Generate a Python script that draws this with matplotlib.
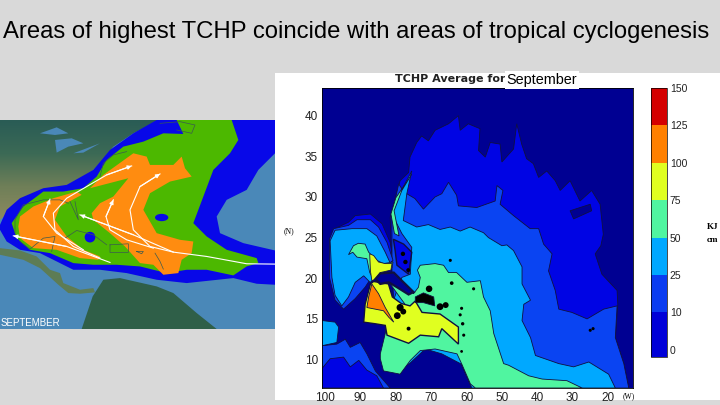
import numpy as np
import matplotlib
matplotlib.use("Agg")
import matplotlib.pyplot as plt
from matplotlib.colors import ListedColormap, BoundaryNorm, LinearSegmentedColormap
from matplotlib.cm import ScalarMappable
from matplotlib.patches import Polygon, Ellipse

W, H = 720, 405
GRAY = "#d9d9d9"

TITLE = "Areas of highest TCHP coincide with areas of tropical cyclogenesis"

# colour per TCHP class
LEVELS = [0, 10, 25, 50, 75, 100, 125, 150]
CLASS_COLORS = ["#0000d8", "#0a3cf0", "#00a8ff", "#50f5a0", "#e0ff20", "#ff8000", "#d40000"]
NAVY = "#000092"
L1, L2, L3, L4, L5, L6 = "#0004e4", "#0a44f2", "#00a8ff", "#50f5a0", "#e0ff20", "#ff8000"

# right map, contours, (lon W, lat N)
atl_10 = [(76.4,33),(76,34.9),(74.1,36.7),(72.7,37.5),(70.8,36.9),(68.9,38.2),(65.1,39),(62.3,40),(61.8,38.2),
          (59.5,39),(56.2,38.4),(56.6,35.7),(54.7,34.9),(53.3,36.7),(50.5,36.5),(50,34.3),(46.7,35.9),(45.8,39),
          (44.4,36.5),(43,34.7),(41.1,34.1),(39.6,32.4),(37.3,33.2),(34.9,32),(33.5,30.8),(30.7,32),(27.9,29.5),
          (24.6,30.8),(22.2,29.1),(21.3,25.4),(22,24),(23.6,23),(21.7,20.5),(17.4,18.5),(17.2,16.8),(17.9,12.7),
          (15.5,9.5),(14.1,6.5),(58.5,6.5),(62.3,10.3),(68.9,11.5),(74.5,11.5),(80.2,14.4),(81.1,20.9),(81.6,27.5),(78.8,32)]
atl_25 = [(77.7,30.6),(74.6,29.8),(72.2,28.5),(68.9,30),(67,30.4),(65.1,31.8),(62.8,30.2),(62.3,28.9),(57.1,28.7),
          (51.9,29.5),(51.4,31.4),(49.7,30.8),(50.5,29.1),(46.7,27.7),(42,26.1),(39.6,26.1),(38.2,24.2),(35.8,23),
          (36.8,20.9),(34.9,18.5),(33.9,16.2),(30.2,15.8),(25.9,15),(21.2,16.2),(17.4,16.6),(17.9,12.7),(15.5,9.5),
          (14.1,6.5),(58.5,6.5),(62.3,10.3),(68.9,11.5),(74.5,11.5),(80.2,14.4),(81.1,20.9),(81.1,27.9),(79.2,31.6)]
atl_50 = [(77.9,27.1),(74.1,26.3),(70.8,26.6),(67.5,26),(64.6,26.3),(61.8,25.8),(59,26.3),(55.2,25.6),(53.8,25),
          (50,24),(48.6,24.1),(46.7,23.4),(44.3,21.4),(44.3,19.3),(41.9,17.3),(43.8,16.8),(44.3,14.8),(41.9,12.7),
          (40.5,10.5),(33.9,9.5),(29.7,9.1),(25.4,9.7),(19.8,8.2),(17.9,6.5),(58.5,6.5),(61.3,9.4),(67,10.7),
          (71.7,11.3),(76.4,9.4),(79.2,11.1),(81.1,16.8),(78.3,20.1),(75.9,20.5),(75.5,23.8),(78.3,25.5),(81.1,27.9),
          (80,29.5),(75.5,33.2),(76.9,30.4)]
atl_75 = [(73.9,21),(73.1,21.6),(68.9,21.8),(66.5,21.6),(65.1,20.7),(62.8,20.7),(59.9,19.5),(56.1,19.7),(55.2,17.7),
          (53.3,16),(52.3,13.2),(49.5,9.5),(48.1,9.3),(42.4,8),(38.6,7.6),(31.6,7.4),(27.3,6.5),(57.5,6.5),(58.9,7),
          (61.3,9.4),(62.7,10.7),(68.9,11.3),(73.1,11.1),(75.9,9.9),(78.8,8.2),(81.1,8.4),(83.5,8.6),(84.4,10.1),
          (84.4,10.7),(83,13.2),(82.5,14.4),(80.2,15.2),(77.4,16.8),(81.6,19.3),(82.1,20.5),(75,18.1),(73.6,18.9),(73.1,20.1)]
yuc_75 = [(93.4,22.9),(92,24),(90.6,24.3),(88.7,24.2),(87.7,23.2),(85.4,22.2),(83.5,21.8),(80.8,22),(81.1,21.3),
          (86.3,19.9),(87.4,20.7),(88.2,22.4),(91,22.6),(92.2,23.2)]
yuc_100 = [(87.4,23),(86.3,22.8),(84.9,22),(83,21.8),(81.1,21.8),(81.4,21),(84.4,20.7),(85.8,19.9),(86.8,19.7),(87.2,20.9)]
car_100 = [(89.1,14.6),(88.7,16.8),(87.2,19.3),(86.3,19.6),(82.1,19.3),(81,17.7),(78.5,16.9),(76,16.6),(74.5,17.2),
           (72.6,15.8),(67.5,15.6),(62.3,14),(62.3,11.9),(67,13.8),(67.9,12.8),(73.1,13),(76.4,12),(82.5,13),(83,14.2),(85.8,14.4)]
car_125 = [(86.8,19.3),(84.9,18.1),(83,16.4),(80.6,14.6),(82,15.2),(83.5,16),(88.2,16.4),(87.7,17.7)]
gulf_10 = [(97.2,26.1),(93.4,26.9),(91.5,27.7),(87.2,27.9),(83.9,26.7),(81.6,24.4),(80.8,22.2),(87.2,20.1),(94.8,16.4)]
gulf_25 = [(98.8,24.8),(97.6,26.1),(93.4,26.5),(91,27.2),(87.2,27.2),(84.9,26.3),(82.5,24.4),(80.8,22.2),(87.2,19.9),
           (88.7,18.9),(91.5,17.5),(94.8,16.2),(97.2,17.3),(98.8,20.1)]
gulf_50 = [(98.6,24.6),(97.2,25.9),(92.4,26.1),(88.2,26.1),(85.4,25.2),(83,23.2),(81.1,21.4),(87.3,19.5),(89.1,20.3),
           (91.5,19.5),(93.4,17.7),(95.3,16.6),(97.2,17.9),(98.1,20.1)]
stream_75 = [(75.5,32.8),(78.3,30.8),(80.5,28.3),(79.1,25.2),(80.4,25.5),(81.4,27.9),(80,29.9)]
pac_50 = [(100.9,14.8),(97.2,14.6),(96.2,14),(96.7,12.1),(100.9,11.7)]
pac_25 = [(100.9,11.7),(96.7,11.9),(94.3,12.5),(92.9,11.5),(90.1,12.1),(88.2,10.7),(85.8,8.6),(81.6,6.5),(100.9,6.5)]
pac_10 = [(100.9,8.9),(98.6,10.1),(94.8,10.3),(92.9,9.1),(90.5,9.9),(88.2,8.7),(85.4,8),(83.5,6.5),(100.9,6.5)]
navy_gap = [(30.7,28.3),(25,29.1),(24.6,28.3),(29.7,27.3)]
bahamas = [(80.7,24.8),(77.8,24.2),(75.5,23.2),(76.4,20.5),(79.7,21.6),(80.2,23.4)]
cuba = [(85.8,19.9),(84.4,20.6),(80.6,20.7),(78.3,19.7),(75,18.3),(76.4,18),(79.7,18.9),(82,19.5),(84.4,19.3)]
hispaniola = [(74.5,17.7),(72.2,18.2),(69.3,17.7),(69,16.6),(72.2,17),(74.5,17)]
island_lon = [70.6,78.8,79.6,77.9,67.5,65.9,76.4,64.2,58,64.6,61.4,61.8,61.1,60.8,61.4,25,24.2,78,77.3,76.5]
island_lat = [18.7,16.4,15.4,15.9,16.5,16.7,13.8,19.4,18.7,22.2,16.3,15.5,14.4,13,11,13.6,13.8,23,22,21]
island_size = [22,26,24,18,24,18,8,7,5,5,5,5,6,5,4,5,5,10,10,8]

LON_TICKS = [100, 90, 80, 70, 60, 50, 40, 30, 20]
LAT_TICKS = [10, 15, 20, 25, 30, 35, 40]

# left map, outlines in picture coordinates of the source image
usa_land = [(0,30),(480,30),(400,70),(340,110),(300,160),(270,190),(200,230),(130,240),(60,280),(0,330)]
mexico_land = [(0,415),(60,422),(110,440),(150,480),(180,490),(190,520),(240,540),(280,535),(285,548),(240,552),
               (205,550),(175,525),(120,475),(70,450),(0,435)]
samerica_land = [(278,560),(310,510),(360,505),(470,530),(520,550),(590,610),(650,658),(245,658)]
lakes = [[(120,70),(170,52),(205,70),(165,75)],[(165,90),(215,85),(250,100),(205,110),(170,128)],
         [(220,130),(300,100),(250,128)]]
band_blue = [(0,345),(20,300),(60,265),(130,235),(200,225),(280,180),(330,120),(400,70),(470,30),(825,30),(825,130),
             (775,180),(740,240),(680,270),(650,320),(660,370),(730,400),(825,422),(825,525),(770,522),(700,505),
             (560,520),(470,510),(380,490),(300,480),(220,480),(120,430),(60,420),(20,395),(0,360)]
band_green = [(530,30),(695,30),(715,90),(690,130),(640,180),(610,260),(580,340),(620,380),(680,420),(770,445),
              (775,460),(740,470),(700,497),(620,480),(560,480),(500,490),(420,470),(350,465),(280,465),(220,460),
              (150,430),(90,420),(50,385),(35,340),(70,290),(130,245),(190,245),(250,235),(290,200),(320,150),
              (370,110),(430,95),(490,70),(550,72)]
band_orange_e = [(400,130),(440,140),(450,165),(520,165),(545,140),(555,175),(575,200),(510,215),(450,250),(430,300),
                 (470,370),(540,390),(580,395),(575,430),(545,450),(535,490),(490,495),(460,465),(420,460),(375,410),
                 (330,370),(280,330),(275,310),(300,280),(340,260),(385,205),(270,235),(310,195)]
band_orange_w = [(60,320),(100,290),(160,265),(230,245),(245,255),(180,290),(165,330),(200,380),(250,420),(300,440),
                 (295,450),(240,445),(170,420),(100,415),(60,385),(55,350)]
spots = [(485,323,40,22),(270,382,32,32)]
tracks = [[(825,463),(740,462),(620,440),(520,427),(400,375),(240,315)],
          [(520,427),(450,410),(400,360),(390,300),(420,230),(480,192)],
          [(460,415),(380,390),(330,360),(318,320),(340,270)],
          [(330,458),(200,410),(40,378)],
          [(300,445),(220,410),(165,360),(160,310),(200,265),(260,230),(320,195),(395,168)],
          [(250,420),(170,370),(130,320),(150,268)]]
coasts = [[(300,200),(310,160),(340,135),(380,125)],[(210,275),(235,330),(225,275)],
          [(195,385),(230,362),(280,375),(320,405)],[(330,405),(385,402),(385,428),(330,428),(330,405)],
          [(410,425),(430,425),(425,432),(410,425)],[(45,370),(45,330),(70,285),(130,270),(180,270),(205,280)],
          [(60,395),(90,418),(130,385),(165,380),(155,425)],[(465,430),(480,455),(490,478)],
          [(480,40),(540,35),(585,45),(575,70),(530,60)]]


def axes_px(x0, y0, x1, y1, **kw):
    return fig.add_axes([x0 / W, 1 - y1 / H, (x1 - x0) / W, (y1 - y0) / H], **kw)


def fill(ax, pts, color, lw=0.6, z=2):
    ax.add_patch(Polygon(pts, closed=True, fc=color, ec="#101040", lw=lw, zorder=z))


fig = plt.figure(figsize=(W / 100, H / 100), dpi=100, facecolor=GRAY)
plt.rcParams["font.family"] = ["Liberation Sans", "DejaVu Sans"]

fig.text(356 / W, 1 - 32 / H, TITLE, ha="center", va="center", fontsize=17.2, color="black", family="Liberation Sans")

# left map
ax = axes_px(0, 120, 275, 329)
ax.axis("off")
ax.add_patch(plt.Rectangle((0, 30), 825, 628, fc="#4a88b8", ec="none", zorder=0))
land_cmap = LinearSegmentedColormap.from_list("land", ["#2a5c55", "#3c6a55", "#6f7f58", "#8c8a60"])
grad = ax.imshow(np.linspace(0, 1, 64).reshape(-1, 1), cmap=land_cmap, extent=(0, 825, 330, 30), aspect="auto", zorder=1)
usa_patch = Polygon(usa_land, closed=True, fc="none", ec="none")
ax.add_patch(usa_patch)
grad.set_clip_path(usa_patch)
ax.set_xlim(0, 825)
ax.set_ylim(658, 30)
ax.add_patch(Polygon(mexico_land, closed=True, fc="#5d7c55", ec="none", zorder=1))
ax.add_patch(Polygon(samerica_land, closed=True, fc="#2f5f48", ec="none", zorder=1))
for lake in lakes:
    ax.add_patch(Polygon(lake, closed=True, fc="#4a88b8", ec="none", zorder=1.5))
ax.add_patch(Polygon(band_blue, closed=True, fc="#0808e8", ec="none", zorder=2))
ax.add_patch(Polygon(band_green, closed=True, fc="#4cb800", ec="none", zorder=3))
ax.add_patch(Polygon(band_orange_e, closed=True, fc="#ff8c10", ec="none", zorder=4))
ax.add_patch(Polygon(band_orange_w, closed=True, fc="#ff8c10", ec="none", zorder=4))
for cx, cy, sw, sh in spots:
    ax.add_patch(Ellipse((cx, cy), sw, sh, fc="#0808e8", ec="none", zorder=5))
for c in coasts:
    xs, ys = zip(*c)
    ax.plot(xs, ys, color="#3a5a50", lw=0.5, zorder=5)
for t in tracks:
    xs, ys = zip(*t)
    ax.plot(xs, ys, color="white", lw=0.8, zorder=6)
    ax.annotate("", xy=t[-1], xytext=t[-2], zorder=6,
                arrowprops=dict(arrowstyle="-|>", color="white", lw=0.8, mutation_scale=6, shrinkA=0, shrinkB=0))
ax.text(3, 640, "SEPTEMBER", color="white", fontsize=7, va="center", ha="left", zorder=7)

# right panel
fig.add_artist(plt.Rectangle((275 / W, 1 - 400 / H), 445 / W, 327 / H, transform=fig.transFigure, fc="white", ec="none", zorder=0.5))

ax2 = axes_px(322, 88, 633, 388)
ax2.set_zorder(2)
ax2.set_facecolor(NAVY)
ax2.set_xlim(100.9, 12.9)
ax2.set_ylim(6.5, 43.4)
fill(ax2, atl_10, L1)
fill(ax2, navy_gap, NAVY, z=2.05)
fill(ax2, atl_25, L2, z=2.1)
fill(ax2, atl_50, L3, z=2.2)
fill(ax2, gulf_10, L1, z=2.05)
fill(ax2, gulf_25, L2, z=2.1)
fill(ax2, gulf_50, L3, z=2.2)
fill(ax2, pac_25, L2, z=2.1)
fill(ax2, pac_10, L1, z=2.2)
fill(ax2, pac_50, L3, z=2.2)
fill(ax2, atl_75, L4, z=2.3)
fill(ax2, stream_75, L4, z=2.3)
fill(ax2, yuc_75, L4, z=2.3)
fill(ax2, car_100, L5, lw=1.0, z=2.4)
fill(ax2, yuc_100, L5, z=2.4)
fill(ax2, car_125, L6, z=2.5)
fill(ax2, bahamas, L1, lw=1.0, z=2.6)
fill(ax2, cuba, NAVY, lw=1.6, z=2.6)
fill(ax2, hispaniola, "black", z=2.6)
ax2.scatter(island_lon, island_lat, s=island_size, color="black", linewidths=0, zorder=2.7)
ax2.set_xticks(LON_TICKS)
ax2.set_yticks(LAT_TICKS)
ax2.tick_params(length=0, labelsize=8.5, pad=3, colors="#222222")
for s in ax2.spines.values():
    s.set_linewidth(0.6)

fig.text(289 / W, 1 - 231 / H, "(N)", fontsize=5.5, family="Liberation Serif", ha="center", va="center", zorder=3)
fig.text(629 / W, 1 - 396 / H, "(W)", fontsize=5.5, family="Liberation Serif", ha="center", va="center", zorder=3)
fig.text(450 / W, 1 - 79 / H, "TCHP Average for", fontsize=8, color="#222222", weight="bold", family="DejaVu Sans",
         ha="center", va="center", zorder=3)
fig.text(542 / W, 1 - 80 / H, "September", fontsize=10.4, ha="center", va="center", zorder=4,
         bbox=dict(fc="white", ec="none", pad=1.2))

# colorbar
cax = axes_px(651, 88, 667, 357)
cax.set_zorder(2)
cmap = ListedColormap(CLASS_COLORS)
cmap.set_under(CLASS_COLORS[0])
cb = fig.colorbar(ScalarMappable(norm=BoundaryNorm(LEVELS, cmap.N), cmap=cmap), cax=cax, spacing="uniform",
                  extend="min", extendrect=True, extendfrac=0.028)
cb.set_ticks(LEVELS)
cb.ax.tick_params(length=0, labelsize=7.5, pad=2, colors="#222222")
cb.outline.set_linewidth(0.5)

fig.text(707 / W, 1 - 227 / H, "KJ", fontsize=6.5, weight="bold", family="Liberation Serif", ha="left", va="center", zorder=3)
fig.text(707 / W, 1 - 240 / H, "cm", fontsize=6.5, weight="bold", family="Liberation Serif", ha="left", va="center", zorder=3)

fig.savefig("out.png", dpi=100, facecolor=GRAY)
